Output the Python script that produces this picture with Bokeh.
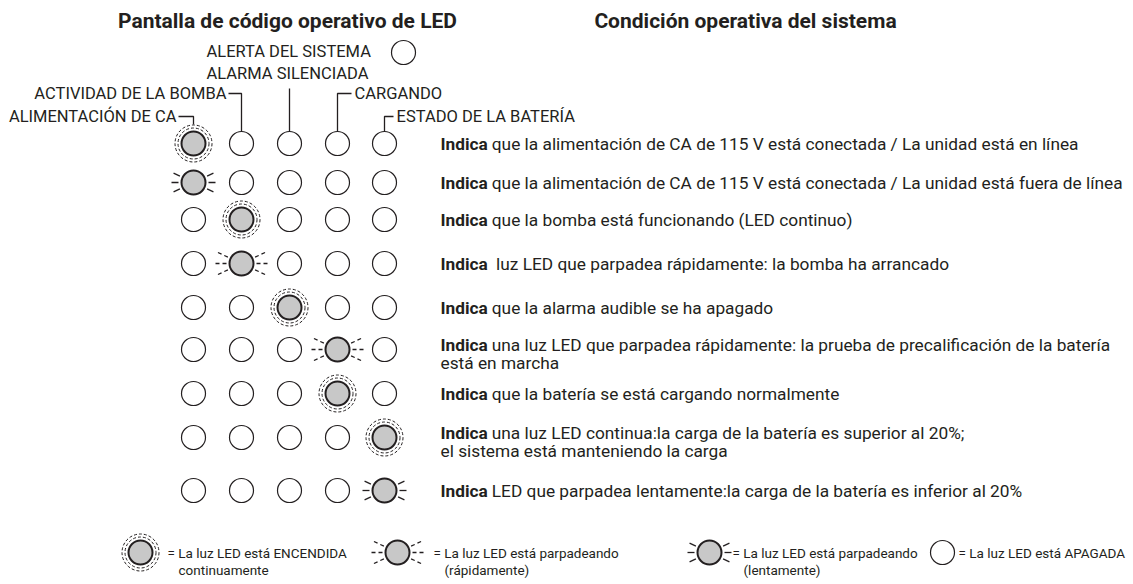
import math
from bokeh.plotting import figure
from bokeh.models import Range1d
from bokeh.core.properties import value
from bokeh.embed import file_html
from bokeh.resources import INLINE

# ---------------- data ----------------
panel_title = "Pantalla de código operativo de LED"
condition_title = "Condición operativa del sistema"
column_labels = ["ALIMENTACIÓN DE CA", "ACTIVIDAD DE LA BOMBA", "ALARMA SILENCIADA",
                 "CARGANDO", "ESTADO DE LA BATERÍA"]
alert_label = "ALERTA DEL SISTEMA"
row_lit_column = [0, 0, 1, 1, 2, 3, 3, 4, 4]
row_lit_mode = ["on", "slow", "on", "fast", "on", "fast", "on", "on", "slow"]
row_keyword = "Indica"
row_descriptions = [
    " que la alimentación de CA de 115 V está conectada / La unidad está en línea",
    " que la alimentación de CA de 115 V está conectada / La unidad está fuera de línea",
    " que la bomba está funcionando (LED continuo)",
    "  luz LED que parpadea rápidamente: la bomba ha arrancado",
    " que la alarma audible se ha apagado",
    " una luz LED que parpadea rápidamente: la prueba de precalificación de la batería\nestá en marcha",
    " que la batería se está cargando normalmente",
    " una luz LED continua:la carga de la batería es superior al 20%;\nel sistema está manteniendo la carga",
    " LED que parpadea lentamente:la carga de la batería es inferior al 20%",
]
legend_modes = ["on", "fast", "slow", "off"]
legend_line1 = ["= La luz LED está ENCENDIDA", "= La luz LED está parpadeando",
                "= La luz LED está parpadeando", "= La luz LED está APAGADA"]
legend_line2 = ["continuamente", "(rápidamente)", "(lentamente)", ""]

# ---------------- layout ----------------
W, H = 1130, 580
COL_X = [193, 241, 289, 337, 384]
ROW_Y = [143, 182, 219, 263, 307, 349, 393, 437, 490]
LED_R = 12
LABEL_Y = [116, 93, 73, 93, 116]
LABEL_SIDE = ["left", "left", "above", "right", "right"]
LEADER_LEN = [15, 13, 0, 14, 9]
DESC_X = 440
DESC_SIZE = "17.3px"
LABEL_SIZE = "16.5px"
LEGEND_SIZE = "13.5px"
TITLE_SIZE = "21px"
TITLE_X = [287, 745]
LEGEND_Y = 552
LEGEND_LED_X = [140, 397, 709, 942]
LEGEND_TEXT_X = [167, 433, 732, 958]

INK = "#231f20"
LIT = "#c8c8c8"
FONT = value("Roboto")

p = figure(width=W, height=H, x_range=Range1d(0, W), y_range=Range1d(H, 0),
           output_backend="svg", toolbar_location=None, min_border=0,
           x_axis_location=None, y_axis_location=None)
p.grid.visible = False
p.outline_line_color = None
p.background_fill_color = "white"

off_x, off_y, lit_x, lit_y = [], [], [], []
ring_x, ring_y, ring_r = [], [], []
fast_seg, slow_seg = [[], [], [], []], [[], [], [], []]


def add_led(x, y, mode):
    if mode == "off":
        off_x.append(x); off_y.append(y)
        return
    lit_x.append(x); lit_y.append(y)
    if mode == "on":
        for r in (15.5, 18.5):
            ring_x.append(x); ring_y.append(y); ring_r.append(r)
    else:
        r0, r1 = (15, 27) if mode == "fast" else (15, 22)
        target = fast_seg if mode == "fast" else slow_seg
        for side in (-1, 1):
            for ang in (-25, 0, 25):
                a = math.radians(ang)
                dx, dy = side * math.cos(a), math.sin(a)
                target[0].append(x + dx * r0); target[1].append(y + dy * r0)
                target[2].append(x + dx * r1); target[3].append(y + dy * r1)


for ri, ry in enumerate(ROW_Y):
    for ci, cx in enumerate(COL_X):
        add_led(cx, ry, row_lit_mode[ri] if row_lit_column[ri] == ci else "off")

for mode, lx in zip(legend_modes, LEGEND_LED_X):
    add_led(lx, LEGEND_Y, mode)

# system alert indicator circle
off_x.append(403); off_y.append(52)

# LEDs
p.circle(ring_x, ring_y, radius=ring_r, fill_color=None, line_color=INK,
         line_width=1, line_dash="3 2")
p.circle(lit_x, lit_y, radius=LED_R, fill_color=LIT, line_color=INK, line_width=2)
p.circle(off_x, off_y, radius=LED_R, fill_color="white", line_color=INK, line_width=1.2)
p.segment(*fast_seg, line_color=INK, line_width=1.3, line_dash="4 3")
p.segment(*slow_seg, line_color=INK, line_width=1.3)

# titles
p.text(TITLE_X, [20, 20], text=[panel_title, condition_title], text_font=FONT,
       text_font_style="bold", text_font_size=TITLE_SIZE, text_align="center",
       text_baseline="middle", text_color=INK)

# column labels and leader lines
lead_xs, lead_ys = [], []
top_y = ROW_Y[0] - LED_R
for ci, lab in enumerate(column_labels):
    cx, ly, side, ll = COL_X[ci], LABEL_Y[ci], LABEL_SIDE[ci], LEADER_LEN[ci]
    bottom = top_y - (7 if row_lit_mode[0] == "on" and row_lit_column[0] == ci else 0)
    if side == "left":
        lead_xs.append([cx - ll, cx, cx]); lead_ys.append([ly, ly, bottom])
        p.text([cx - ll - 2], [ly], text=[lab], text_font=FONT, text_font_size=LABEL_SIZE,
               text_align="right", text_baseline="middle", text_color=INK)
    elif side == "right":
        lead_xs.append([cx + ll, cx, cx]); lead_ys.append([ly, ly, bottom])
        p.text([cx + ll + 3], [ly], text=[lab], text_font=FONT, text_font_size=LABEL_SIZE,
               text_align="left", text_baseline="middle", text_color=INK)
    else:
        lead_xs.append([cx, cx]); lead_ys.append([ly + 15, bottom])
        p.text([206], [ly], text=[lab], text_font=FONT, text_font_size=LABEL_SIZE,
               text_align="left", text_baseline="middle", text_color=INK)
p.multi_line(lead_xs, lead_ys, line_color=INK, line_width=1.3)
p.text([206], [51], text=[alert_label], text_font=FONT, text_font_size=LABEL_SIZE,
       text_align="left", text_baseline="middle", text_color=INK)

# descriptions
kw_x, kw_y, rest_x, rest_y, rest_t, rest_off = [], [], [], [], [], []
for ri, desc in enumerate(row_descriptions):
    lines = desc.split("\n")
    y0 = ROW_Y[ri] - (5 if len(lines) > 1 else 0)
    kw_x.append(DESC_X); kw_y.append(y0)
    first = lines[0]
    nsp = len(first) - len(first.lstrip(" "))
    rest_x.append(DESC_X); rest_y.append(y0); rest_t.append(first.lstrip(" "))
    rest_off.append(47 + 4.3 * nsp)
    for li, extra in enumerate(lines[1:]):
        rest_x.append(DESC_X); rest_y.append(y0 + 18 * (li + 1)); rest_t.append(extra)
        rest_off.append(0)
p.text(kw_x, kw_y, text=[row_keyword] * len(kw_x), text_font=FONT, text_font_style="bold",
       text_font_size=DESC_SIZE, text_baseline="middle", text_color=INK)
p.text(x=rest_x, y=rest_y, text=rest_t, x_offset=rest_off, text_font=FONT,
       text_font_size=DESC_SIZE, text_baseline="middle", text_color=INK)

# legend texts
p.text(LEGEND_TEXT_X, [LEGEND_Y] * 4, text=legend_line1, text_font=FONT,
       text_font_size=LEGEND_SIZE, text_baseline="middle", text_color=INK)
p.text([x + 11 for x in LEGEND_TEXT_X], [LEGEND_Y + 17] * 4, text=legend_line2, text_font=FONT,
       text_font_size=LEGEND_SIZE, text_baseline="middle", text_color=INK)

open("out.html", "w").write(file_html(p, INLINE))
